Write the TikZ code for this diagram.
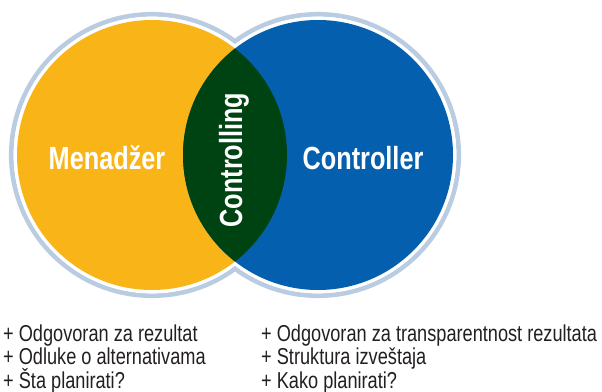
\documentclass[tikz,border=0pt]{standalone}
\usepackage{fontspec}
\setmainfont{Liberation Sans}[FakeStretch=0.83]
\newfontfamily\titlefont{Liberation Sans}[FakeStretch=0.79]
\newfontfamily\listfont{Liberation Sans}[FakeStretch=0.79]
\usepackage{tikz}
\usetikzlibrary{positioning, calc}

\definecolor{menyellow}{RGB}{249,180,24}
\definecolor{ctrlblue}{RGB}{4,96,174}
\definecolor{lensgreen}{RGB}{0,67,18}
\definecolor{ringblue}{RGB}{185,204,225}
\definecolor{listgrey}{RGB}{35,31,32}

\tikzset{ring/.style={draw=ringblue, line width=4.7pt},
	title/.style={text=white, font=\titlefont\fontsize{32}{32}\selectfont\bfseries, inner sep=0pt},
	item/.style={text=listgrey, font=\listfont\fontsize{23}{24}\selectfont, inner sep=0pt, anchor=base west}}

\begin{document}
\begin{tikzpicture}[x=1pt, y=-1pt]
\useasboundingbox (0,0) rectangle (602,391);

\coordinate (m) at (152,155);
\coordinate (c) at (318,155);

% outer rings
\draw[ring] (m) circle[radius=140.7pt];
\draw[ring] (c) circle[radius=140.7pt];
\fill[white] (m) circle[radius=138.4pt];
\fill[white] (c) circle[radius=138.4pt];

% the two sets
\fill[menyellow] (m) circle[radius=135pt];
\fill[ctrlblue] (c) circle[radius=135pt];
\begin{scope}
	\clip (m) circle[radius=135pt];
	\fill[lensgreen] (c) circle[radius=135pt];
\end{scope}

\node[title] (menadzer) at (107,158) {Menadžer};
\node[title] (controller) at (363,158) {Controller};
\node[title, rotate=90] (controlling) at (234,160) {Controlling};

% lists
\node[item] (m1) at (3,341) {+ Odgovoran za rezultat};
\node[item] (m2) at (3,364.5) {+ Odluke o alternativama};
\node[item] (m3) at (3,388) {+ Šta planirati?};
\node[item] (c1) at (261,341) {+ Odgovoran za transparentnost rezultata};
\node[item] (c2) at (261,364.5) {+ Struktura izveštaja};
\node[item] (c3) at (261,388) {+ Kako planirati?};
\end{tikzpicture}
\end{document}
